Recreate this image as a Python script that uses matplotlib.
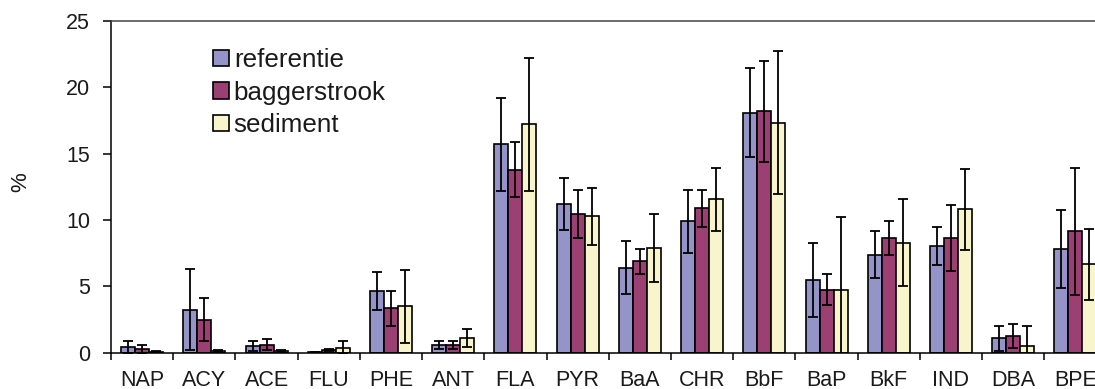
import numpy as np
import matplotlib
matplotlib.use("Agg")
import matplotlib.pyplot as plt

# PAH profile: mean share (%) per compound with standard deviation
compounds = ["NAP", "ACY", "ACE", "FLU", "PHE", "ANT", "FLA", "PYR",
             "BaA", "CHR", "BbF", "BaP", "BkF", "IND", "DBA", "BPE"]

referentie = [0.4, 3.25, 0.5, 0.05, 4.65, 0.6, 15.7, 11.2,
              6.4, 9.9, 18.1, 5.5, 7.4, 8.05, 1.1, 7.8]
referentie_sd = [0.45, 3.05, 0.38, 0.03, 1.4, 0.3, 3.5, 1.95,
                 2.0, 2.4, 3.35, 2.8, 1.75, 1.45, 0.95, 2.95]

baggerstrook = [0.25, 2.5, 0.6, 0.2, 3.35, 0.55, 13.8, 10.45,
                6.9, 10.9, 18.2, 4.75, 8.65, 8.65, 1.25, 9.15]
baggerstrook_sd = [0.35, 1.65, 0.4, 0.05, 1.3, 0.3, 2.1, 1.8,
                   0.95, 1.4, 3.8, 1.15, 1.3, 2.5, 0.9, 4.8]

sediment = [0.08, 0.12, 0.12, 0.38, 3.5, 1.1, 17.2, 10.3,
            7.9, 11.55, 17.35, 4.75, 8.3, 10.8, 0.5, 6.65]
sediment_sd = [0.05, 0.08, 0.08, 0.5, 2.75, 0.65, 5.0, 2.15,
               2.55, 2.4, 5.4, 5.5, 3.3, 3.05, 1.5, 2.65]

series = [
    ("referentie", referentie, referentie_sd, "#9494c8"),
    ("baggerstrook", baggerstrook, baggerstrook_sd, "#9c3f73"),
    ("sediment", sediment, sediment_sd, "#f8f5cc"),
]

plt.rcParams["font.family"] = ["Liberation Sans", "DejaVu Sans"]
text_col = "#1a1a1a"

W, H = 1095, 389
fig = plt.figure(figsize=(W / 100, H / 100), dpi=100)
# plot area runs past the right edge, so the last group is cut off
ax = fig.add_axes([111 / W, 36.3 / H, 995.5 / W, 331.7 / H])

x = np.arange(len(compounds))
bw = 0.225
for k, (name, vals, sd, col) in enumerate(series):
    pos = x + (k - 1) * bw
    ax.bar(pos, vals, width=bw, color=col, edgecolor="black",
           linewidth=1.2, label=name, zorder=2)
    ax.errorbar(pos, vals, yerr=sd, fmt="none", ecolor="black",
                elinewidth=1.3, capsize=3.9, capthick=1.3, zorder=3)

ax.set_xlim(-0.5, len(compounds) - 0.5)
ax.set_ylim(0, 25)
ax.set_yticks(range(0, 26, 5))

# category labels centred, tick marks between categories
ax.set_xticks(x)
ax.set_xticklabels(compounds)
ax.set_xticks(np.arange(-0.5, len(compounds), 1.0), minor=True)
ax.tick_params(axis="x", which="major", length=0, pad=12.5,
               labelsize=15.5, labelcolor=text_col)
ax.tick_params(axis="x", which="minor", length=5, width=1.1,
               direction="out", color="black")
ax.tick_params(axis="y", length=6, width=1.1, direction="out",
               pad=9, labelsize=15.5, labelcolor=text_col)

for side in ["left", "bottom"]:
    ax.spines[side].set_linewidth(1.1)
ax.spines["top"].set_color("#444444")
ax.spines["top"].set_linewidth(1.1)
ax.spines["right"].set_visible(False)

fig.text(21 / W, 1 - 182 / H, "%", rotation=90, ha="center", va="center",
         fontsize=16, color=text_col)

ax.legend(loc="upper left", bbox_to_anchor=(213 / W, 1 - 48 / H),
          bbox_transform=fig.transFigure, frameon=False, fontsize=18.7,
          handlelength=0.6, handleheight=0.6, handletextpad=0.2,
          labelspacing=0.33, borderpad=0, borderaxespad=0,
          labelcolor=text_col)

fig.savefig("out.png", dpi=100)
